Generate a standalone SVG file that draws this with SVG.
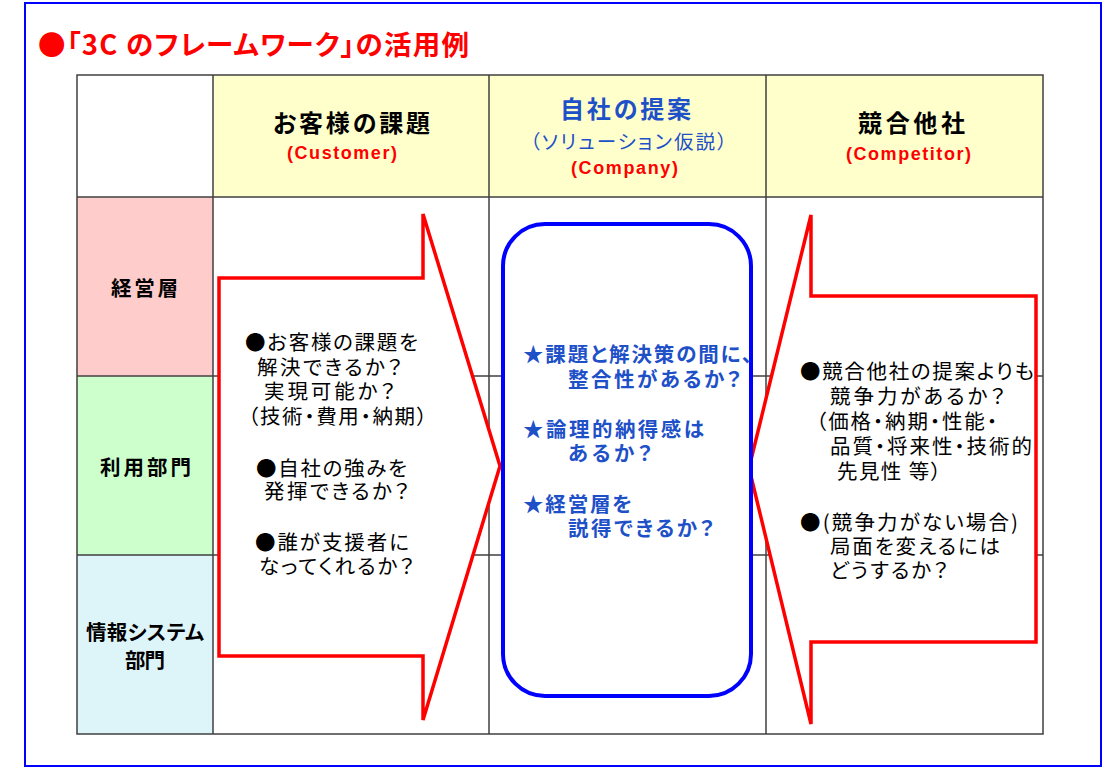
<svg xmlns="http://www.w3.org/2000/svg" width="1104" height="769" viewBox="0 0 1104 769">
<style>
text{font-family:"Noto Sans CJK JP","Noto Sans CJK SC",sans-serif;font-feature-settings:"palt";}
.t{font-size:20.5px;fill:#000;}
.b{font-size:20.5px;fill:#1E50C8;font-weight:bold;}
.h{font-size:24px;font-weight:bold;fill:#000;}
.hb{fill:#1E50C8;}
.lat{font-family:"Liberation Sans",Arial,sans-serif;font-size:18px;font-weight:bold;fill:#FF0000;}
.lab{font-size:20.5px;font-weight:bold;fill:#000;}
.grid{stroke:#404040;stroke-width:1.5;fill:none;}
.arrow{fill:#fff;stroke:#FF0000;stroke-width:3.5;stroke-linejoin:miter;}
</style>
<rect x="0" y="0" width="1104" height="769" fill="#fff"/>
<rect id="frame" x="25" y="3" width="1076" height="763" fill="#fff" stroke="#0000FF" stroke-width="2"/>
<g id="title"><text x="38" y="55" font-size="27.5" font-weight="bold" fill="#FF0000" textLength="431" lengthAdjust="spacing">●「3C のフレームワーク」の活用例</text></g>

<g id="table">
<rect x="77" y="75" width="136" height="122" fill="#fff"/>
<rect x="213" y="75" width="830" height="122" fill="#FFFFCC"/>
<rect x="77" y="197" width="136" height="179" fill="#FFCCCC"/>
<rect x="77" y="376" width="136" height="179" fill="#CCFFCC"/>
<rect x="77" y="555" width="136" height="179" fill="#DDF4F9"/>
<rect x="213" y="197" width="830" height="537" fill="#fff"/>
<path class="grid" d="M77 75H1043V734H77Z M213 75V734 M489 75V734 M766 75V734 M77 197H1043 M77 376H1043 M77 555H1043"/>
</g>

<g id="connectors">
<polygon id="arrow-customer" class="arrow" points="219,278 423,278 423,214 500,466 423,720 423,656 219,656"/>
<polygon id="arrow-competitor" class="arrow" points="1036,296 811,296 811,215 749,468 811,724 811,642 1036,642"/>
</g>

<g id="company-box"><rect x="503" y="224" width="248" height="472" rx="42" ry="42" fill="#fff" stroke="#0000FF" stroke-width="4"/></g>

<g id="head-customer">
<text class="h" x="273" y="132" textLength="157" lengthAdjust="spacing">お客様の課題</text>
<text class="lat" x="287" y="159" textLength="110" lengthAdjust="spacing">(Customer)</text>
</g>
<g id="head-company">
<text class="h hb" x="560" y="118" textLength="131" lengthAdjust="spacing">自社の提案</text>
<text x="530" y="149" font-size="19.5" fill="#1E50C8" textLength="197" lengthAdjust="spacing">（ソリューション仮説）</text>
<text class="lat" x="571" y="174" textLength="107" lengthAdjust="spacing">(Company)</text>
</g>
<g id="head-competitor">
<text class="h" x="858" y="132" textLength="107" lengthAdjust="spacing">競合他社</text>
<text class="lat" x="846" y="160" textLength="125" lengthAdjust="spacing">(Competitor)</text>
</g>

<g id="row-management"><text class="lab" x="111" y="296" textLength="67" lengthAdjust="spacing">経営層</text></g>
<g id="row-user"><text class="lab" x="100" y="475" textLength="91" lengthAdjust="spacing">利用部門</text></g>
<g id="row-is">
<text class="lab" x="86" y="640" font-size="19.5" textLength="118" lengthAdjust="spacing">情報システム</text>
<text class="lab" x="125" y="668" font-size="19.5" textLength="40" lengthAdjust="spacing">部門</text>
</g>

<g id="customer-text">
<text class="t" x="245" y="350" textLength="173" lengthAdjust="spacing">●お客様の課題を</text>
<text class="t" x="257" y="375" textLength="145" lengthAdjust="spacing">解決できるか？</text>
<text class="t" x="264" y="399" textLength="131" lengthAdjust="spacing">実現可能か？</text>
<text class="t" x="248" y="424" textLength="179" lengthAdjust="spacing">（技術・費用・納期）</text>
<text class="t" x="256" y="476" textLength="151" lengthAdjust="spacing">●自社の強みを</text>
<text class="t" x="264" y="499" textLength="145" lengthAdjust="spacing">発揮できるか？</text>
<text class="t" x="255" y="550" textLength="154" lengthAdjust="spacing">●誰が支援者に</text>
<text class="t" x="259" y="574" textLength="155" lengthAdjust="spacing">なってくれるか？</text>
</g>

<g id="company-text">
<text class="b" x="523" y="362" textLength="229" lengthAdjust="spacing">★課題と解決策の間に、</text>
<text class="b" x="568" y="387" textLength="173" lengthAdjust="spacing">整合性があるか？</text>
<text class="b" x="523" y="437" textLength="181" lengthAdjust="spacing">★論理的納得感は</text>
<text class="b" x="568" y="461" textLength="84" lengthAdjust="spacing">あるか？</text>
<text class="b" x="523" y="512" textLength="109" lengthAdjust="spacing">★経営層を</text>
<text class="b" x="568" y="536" textLength="146" lengthAdjust="spacing">説得できるか？</text>
</g>

<g id="competitor-text">
<text class="t" x="800" y="379" textLength="234" lengthAdjust="spacing">●競合他社の提案よりも</text>
<text class="t" x="830" y="404" textLength="175" lengthAdjust="spacing">競争力があるか？</text>
<text class="t" x="816" y="429" textLength="181" lengthAdjust="spacing">（価格・納期・性能・</text>
<text class="t" x="830" y="454" textLength="202" lengthAdjust="spacing">品質・将来性・技術的</text>
<text class="t" x="837" y="479" textLength="104" lengthAdjust="spacing">先見性 等）</text>
<text class="t" x="800" y="530" textLength="218" lengthAdjust="spacing">●(競争力がない場合)</text>
<text class="t" x="830" y="554" textLength="170" lengthAdjust="spacing">局面を変えるには</text>
<text class="t" x="830" y="578" textLength="118" lengthAdjust="spacing">どうするか？</text>
</g>
</svg>
